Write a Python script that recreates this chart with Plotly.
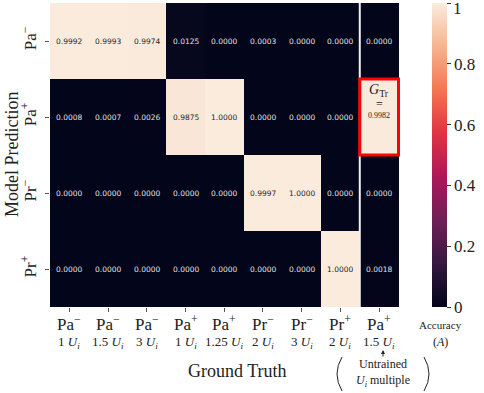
import plotly.graph_objects as go

# ---- data ----
gt_class = ["Pa<sup>−</sup>", "Pa<sup>−</sup>", "Pa<sup>−</sup>", "Pa<sup>+</sup>", "Pa<sup>+</sup>",
            "Pr<sup>−</sup>", "Pr<sup>−</sup>", "Pr<sup>+</sup>", "Pa<sup>+</sup>"]
gt_mult = ["1", "1.5", "3", "1", "1.25", "2", "3", "2", "1.5"]
pred_labels = ["Pa<sup>−</sup>", "Pa<sup>+</sup>", "Pr<sup>−</sup>", "Pr<sup>+</sup>"]

row_pa_minus = [0.9992, 0.9993, 0.9974, 0.0125, 0.0000, 0.0003, 0.0000, 0.0000, 0.0000]
row_pa_plus = [0.0008, 0.0007, 0.0026, 0.9875, 1.0000, 0.0000, 0.0000, 0.0000, 0.9982]
row_pr_minus = [0.0000, 0.0000, 0.0000, 0.0000, 0.0000, 0.9997, 1.0000, 0.0000, 0.0000]
row_pr_plus = [0.0000, 0.0000, 0.0000, 0.0000, 0.0000, 0.0000, 0.0000, 1.0000, 0.0018]
z = [row_pa_minus, row_pa_plus, row_pr_minus, row_pr_plus]

cbar_ticks = [0, 0.2, 0.4, 0.6, 0.8, 1.0]
cbar_ticktext = ["0", "0.2", "0.4", "0.6", "0.8", "1"]

untrained_col = 8   # column index of untrained multiple
gtr_row = 1         # Pa+ prediction row

# ---- style ----
SERIF = "Liberation Serif, DejaVu Serif, serif"
SANS = "DejaVu Sans, sans-serif"
W, H = 484, 393
ML, MR, MT, MB = 50, 84, 3, 86
PW, PH = W - ML - MR, H - MT - MB

def px_x(px):
    return (px - ML) / PW

def px_y(py):
    return (MT + PH - py) / PH

rocket = [
    [0.0, "#03051A"],
    [1/7, "#35193e"],
    [2/7, "#701f57"],
    [3/7, "#ad1759"],
    [4/7, "#e13342"],
    [5/7, "#f37651"],
    [6/7, "#f6b48f"],
    [1.0, "#FAEBDD"],
]

x_cats = [f"{c} {m} U_i" for c, m in zip(gt_class, gt_mult)]

# the top colorbar label sits at the figure edge: draw it as an annotation instead
cbar_axis_text = cbar_ticktext[:-1] + [""]

fig = go.Figure(go.Heatmap(
    z=z, x=x_cats, y=pred_labels,
    colorscale=rocket, zmin=0, zmax=1,
    showscale=True, hoverinfo="skip",
    colorbar=dict(
        x=px_x(432), xanchor="left", xpad=0, thickness=15,
        len=1, lenmode="fraction", y=0.5, yanchor="middle", ypad=0,
        outlinewidth=0,
        tickvals=cbar_ticks, ticktext=cbar_axis_text,
        ticks="outside", ticklen=4, tickcolor="#333",
        tickfont=dict(family=SERIF, size=17, color="#222"),
    ),
))

annotations = []

def ann(**kw):
    d = dict(showarrow=False, xanchor="center", yanchor="middle")
    d.update(kw)
    annotations.append(d)

# cell values
for r, row in enumerate(z):
    for c, v in enumerate(row):
        if r == gtr_row and c == untrained_col:
            continue
        ann(x=x_cats[c], y=pred_labels[r], xref="x", yref="y",
            text=f"{v:.4f}",
            font=dict(family=SANS, size=7.5, color="#262626" if v > 0.5 else "#e2e2e2"))

# special G_Tr cell
gx = x_cats[untrained_col]
ann(x=gx, y=px_y(90), xref="x", yref="paper",
    text="<i>G</i><sub>Tr</sub>", font=dict(family=SERIF, size=14, color="#222"))
ann(x=gx, y=px_y(104), xref="x", yref="paper",
    text="=", font=dict(family=SERIF, size=12, color="#222"))
ann(x=gx, y=px_y(115), xref="x", yref="paper",
    text=f"{z[gtr_row][untrained_col]:.4f}", font=dict(family=SERIF, size=8, color="#222"))

# x tick labels (two lines)
for c in range(len(x_cats)):
    ann(x=x_cats[c], y=px_y(323), xref="x", yref="paper",
        text=gt_class[c], font=dict(family=SERIF, size=17, color="#222"))
    ann(x=x_cats[c], y=px_y(342), xref="x", yref="paper",
        text=f"{gt_mult[c]} <i>U<sub>i</sub></i>",
        font=dict(family=SERIF, size=13, color="#222"))

# top colorbar tick label
ann(x=px_x(451), y=px_y(8), xref="paper", yref="paper", xanchor="left",
    text=cbar_ticktext[-1], font=dict(family=SERIF, size=17, color="#222"))

# axis titles
ann(x=px_x(237), y=px_y(371), xref="paper", yref="paper",
    text="Ground Truth", font=dict(family=SERIF, size=18, color="#222"))
ann(x=px_x(12), y=0.5, xref="paper", yref="paper",
    text="Model Prediction", textangle=-90,
    font=dict(family=SERIF, size=18, color="#222"))

# colorbar title
ann(x=px_x(440), y=px_y(325), xref="paper", yref="paper",
    text="Accuracy", font=dict(family=SERIF, size=11, color="#222"))
ann(x=px_x(440), y=px_y(342), xref="paper", yref="paper",
    text="(<i>A</i>)", font=dict(family=SERIF, size=12, color="#222"))

# untrained note
ann(x=px_x(383), y=px_y(364), xref="paper", yref="paper",
    text="Untrained", font=dict(family=SERIF, size=12, color="#222"))
ann(x=px_x(383), y=px_y(381), xref="paper", yref="paper",
    text="<i>U<sub>i</sub></i> multiple", font=dict(family=SERIF, size=12, color="#222"))
annotations.append(dict(x=px_x(383), y=px_y(350), xref="paper", yref="paper",
                        ax=0, ay=8, axref="pixel", ayref="pixel",
                        text="", showarrow=True, arrowhead=2, arrowsize=0.8,
                        arrowwidth=1, arrowcolor="#222"))

shapes = [
    # separator line before untrained column
    dict(type="line", xref="x", yref="paper",
         x0=untrained_col - 0.5, x1=untrained_col - 0.5, y0=0, y1=1,
         line=dict(color="#f0f0f0", width=2)),
    # red box around G_Tr cell
    dict(type="rect", xref="x", yref="y",
         x0=untrained_col - 0.5, x1=untrained_col + 0.5,
         y0=gtr_row - 0.5, y1=gtr_row + 0.5,
         line=dict(color="#ff0000", width=3)),
    # parentheses
    dict(type="path", xref="paper", yref="paper",
         path=f"M {px_x(342)},{px_y(357)} Q {px_x(332)},{px_y(374)} {px_x(342)},{px_y(391)}",
         line=dict(color="#222", width=1)),
    dict(type="path", xref="paper", yref="paper",
         path=f"M {px_x(424)},{px_y(357)} Q {px_x(434)},{px_y(374)} {px_x(424)},{px_y(391)}",
         line=dict(color="#222", width=1)),
]

fig.update_layout(
    width=W, height=H,
    margin=dict(l=ML, r=MR, t=MT, b=MB),
    paper_bgcolor="white", plot_bgcolor="white",
    annotations=annotations, shapes=shapes,
    xaxis=dict(showticklabels=False, ticks="outside", ticklen=4, tickcolor="#555",
               showgrid=False, zeroline=False, showline=False),
    yaxis=dict(autorange="reversed", tickangle=-90, ticks="outside", ticklen=4,
               tickcolor="#555", showgrid=False, zeroline=False, showline=False,
               tickfont=dict(family=SERIF, size=17, color="#222"), ticklabelstandoff=2),
    showlegend=False,
)

fig.write_html("out.html", config={"displayModeBar": False},
               post_script="document.body.style.margin='0';")
